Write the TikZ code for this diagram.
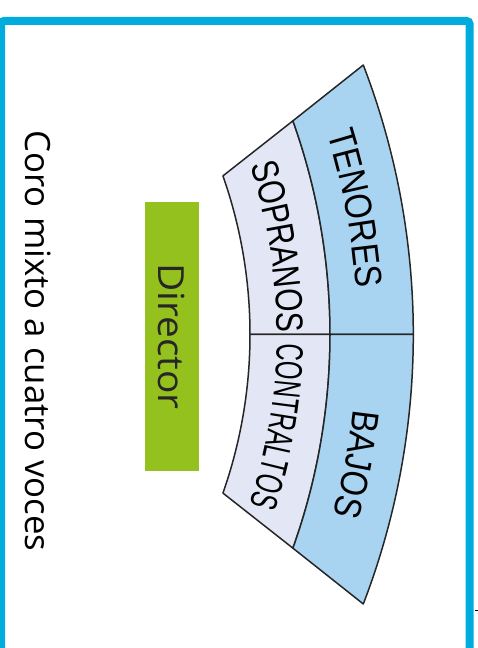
\documentclass[tikz,border=0pt]{standalone}
\usepackage{fontspec}
\setmainfont{Open Sans}
\newfontfamily\dirfont[FakeStretch=1.08]{Open Sans}
\newfontfamily\vozA[FakeStretch=0.86]{Liberation Sans}
\newfontfamily\vozB[FakeStretch=0.79]{Liberation Sans}
\newfontfamily\vozC[FakeStretch=0.63]{Liberation Sans}
\definecolor{marco}{RGB}{0, 172, 222}
\definecolor{dirgreen}{RGB}{149, 193, 31}
\definecolor{fanin}{RGB}{227, 230, 245}
\definecolor{fanout}{RGB}{168, 212, 241}
\usetikzlibrary{calc, decorations.text}

\def\radin{478.7}
\def\radmid{634.5}
\def\radout{751.3}
\def\angin{19.35}
\def\angmid{19.68}
\def\angout{21.02}

\begin{document}
\begin{tikzpicture}[x=1pt, y=1pt,
  fan/.style={draw=black!85, line width=1.5pt, line join=round},
  voz/.style={decorate, decoration={text along path, text align=center, text color=black}}]
  \useasboundingbox (0,0) rectangle (478,648);
  % Frame
  \draw[marco, line width=8pt, rounded corners=3pt] (1,-20) -- (1,627) -- (469.5,627) -- (469.5,-20);
  \draw[black, line width=0.8pt] (475,38) -- (480,38);
  % Title and director
  \node[rotate=-90, font=\fontsize{34.8}{34.8}\selectfont] (titulo) at (38.5,307) {Coro mixto a cuatro voces};
  \node[rotate=-90, fill=dirgreen, minimum width=269pt, minimum height=54pt, inner sep=0pt,
    font=\dirfont\fontsize{36}{36}\selectfont, text=black!85] (dir) at (172,311.5) {Director};
  % Arc centres
  \coordinate (ci) at (-228.7,313.5);
  \coordinate (cm) at (-304.5,313.5);
  \coordinate (co) at (-338,313.5);
  \coordinate (ct) at (-266.6,313.5);
  \coordinate (cb) at (-321,313.5);
  % Inner row
  \filldraw[fan, fill=fanin] ($(ci)+(\angin:\radin)$) arc[start angle=\angin, end angle=0, radius=\radin]
    -- ($(cm)+(0:\radmid)$) arc[start angle=0, end angle=\angmid, radius=\radmid] -- cycle;
  \filldraw[fan, fill=fanin] ($(ci)+(-\angin:\radin)$) arc[start angle=-\angin, end angle=0, radius=\radin]
    -- ($(cm)+(0:\radmid)$) arc[start angle=0, end angle=-\angmid, radius=\radmid] -- cycle;
  % Outer row
  \filldraw[fan, fill=fanout] ($(cm)+(\angmid:\radmid)$) arc[start angle=\angmid, end angle=0, radius=\radmid]
    -- ($(co)+(0:\radout)$) arc[start angle=0, end angle=\angout, radius=\radout] -- cycle;
  \filldraw[fan, fill=fanout] ($(cm)+(-\angmid:\radmid)$) arc[start angle=-\angmid, end angle=0, radius=\radmid]
    -- ($(co)+(0:\radout)$) arc[start angle=0, end angle=-\angout, radius=\radout] -- cycle;
  % Voices
  \path[voz, decoration={text={|\vozB\fontsize{38}{38}\selectfont|SOPRANOS}}]
    ($(ct)+(21.16:543.6)$) arc[start angle=21.16, end angle=-2.84, radius=543.6];
  \path[voz, decoration={text={|\vozC\fontsize{38}{38}\selectfont|CONTRALTOS}}]
    ($(ct)+(2.42:543.6)$) arc[start angle=2.42, end angle=-21.58, radius=543.6];
  \path[voz, decoration={text={|\vozA\fontsize{38}{38}\selectfont|TENORES}}]
    ($(cb)+(20.57:678.5)$) arc[start angle=20.57, end angle=0.57, radius=678.5];
  \path[voz, decoration={text={|\vozA\fontsize{38}{38}\selectfont|BAJOS}}]
    ($(cb)+(-0.83:678.5)$) arc[start angle=-0.83, end angle=-20.83, radius=678.5];
\end{tikzpicture}
\end{document}
